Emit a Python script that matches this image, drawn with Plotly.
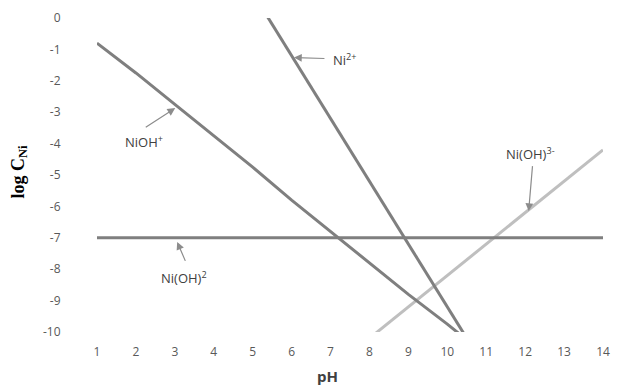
import plotly.graph_objects as go

ph = list(range(1, 15))
ni2 = [None, None, None, None, 0.8, -1.2, -3.2, -5.2, -7.2, -9.2, -11.2, None, None, None]
nioh = [-0.8, -1.75, -2.75, -3.75, -4.75, -5.8, -6.8, -7.8, -8.8, -9.75, -10.75, None, None, None]
nioh2 = [-7.0] * 14
nioh3 = [None, None, None, None, None, None, None, -10.2, -9.2, -8.2, -7.2, -6.2, -5.2, -4.2]
y_ticks = list(range(-10, 1))

dark = "#7f7f7f"
light = "#bfbfbf"

fig = go.Figure()
fig.add_trace(go.Scatter(x=ph, y=nioh3, mode="lines", line=dict(color=light, width=3)))
fig.add_trace(go.Scatter(x=ph, y=nioh2, mode="lines", line=dict(color=dark, width=3)))
fig.add_trace(go.Scatter(x=ph, y=nioh, mode="lines", line=dict(color=dark, width=3)))
fig.add_trace(go.Scatter(x=ph, y=ni2, mode="lines", line=dict(color=dark, width=3)))

tick_font = dict(family="Open Sans, Liberation Sans, sans-serif", size=12, color="#595959")
fig.update_xaxes(range=[1, 14], tickvals=ph, ticktext=[str(v) for v in ph], showgrid=False,
                 zeroline=False, showline=False, ticks="outside", ticklen=9,
                 tickcolor="rgba(0,0,0,0)", tickfont=tick_font)
fig.update_yaxes(range=[-10, 0], tickvals=y_ticks, ticktext=[str(v) for v in y_ticks],
                 showgrid=False, zeroline=False,
                 showline=False, ticks="outside", ticklen=33, tickcolor="rgba(0,0,0,0)",
                 tickfont=tick_font)

lab_font = dict(family="Open Sans, Liberation Sans, sans-serif", size=13, color="#404040")
arrows = [
    (3.01, -2.87, -31, 20),
    (6.06, -1.26, 32, 1),
    (12.09, -6.15, 4, -47),
    (3.06, -7.13, 9, 21),
]
for x, y, ax, ay in arrows:
    fig.add_annotation(x=x, y=y, ax=ax, ay=ay, text="\u00a0", showarrow=True, arrowhead=2,
                       arrowsize=1.3, arrowwidth=1.2, arrowcolor="#8c8c8c",
                       font=dict(size=1))

texts = [
    (2.22, -3.94, "NiOH<sup>+</sup>"),
    (7.35, -1.32, "Ni<sup>2+</sup>"),
    (12.14, -4.33, "Ni(OH)<sup>3-</sup>"),
    (3.24, -8.26, "Ni(OH)<sup>2</sup>"),
]
for x, y, t in texts:
    fig.add_annotation(x=x, y=y, text=t, showarrow=False, font=lab_font)

fig.add_annotation(xref="paper", yref="paper", x=(331 - 97) / 513, y=(332 - 376) / 317,
                   xanchor="center", yanchor="middle",
                   text="<b>pH</b>", showarrow=False,
                   font=dict(family="Open Sans, Liberation Sans, sans-serif", size=15, color="#404040"))
fig.add_annotation(xref="paper", yref="paper", x=(18 - 97) / 513, y=(332 - 170) / 317,
                   xanchor="center", yanchor="middle",
                   text="<b>log C<sub>Ni</sub></b>", showarrow=False, textangle=-90,
                   font=dict(family="Liberation Serif, Times New Roman, serif", size=18, color="#000000"))

fig.update_layout(width=619, height=389, margin=dict(l=97, r=9, t=15, b=57),
                  plot_bgcolor="white", paper_bgcolor="white", showlegend=False)
fig.write_html("out.html")
